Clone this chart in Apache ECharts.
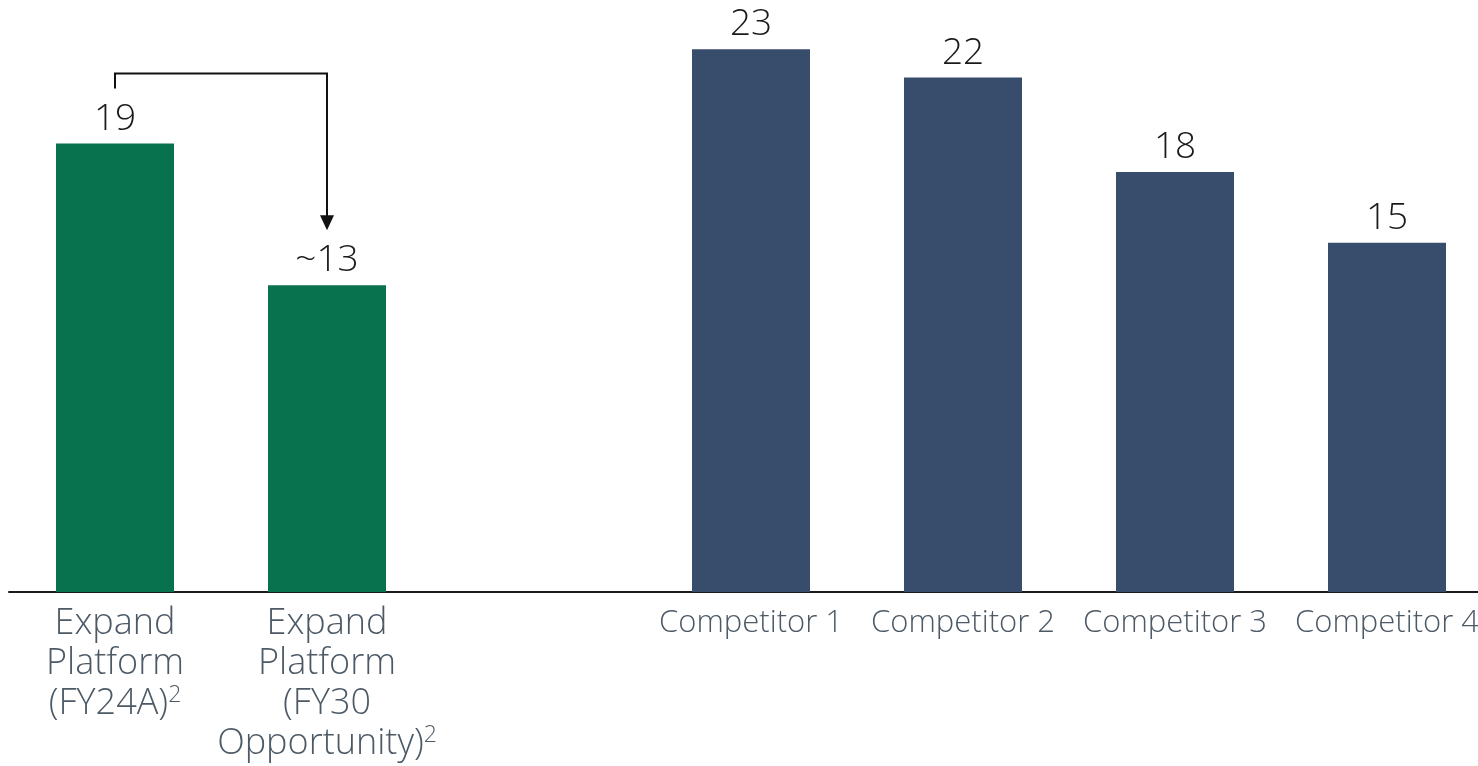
<!DOCTYPE html>
<html lang="en">
<head>
  <meta charset="UTF-8">
  <script src="https://cdn.jsdelivr.net/npm/echarts@6/dist/echarts.min.js"></script>
  <title>Expand Platform vs competitors</title>
  <style>
    * { margin: 0; padding: 0; }
    html, body { width: 100%; height: 100%; background: #fff; }
    #chart { width: 1478px; height: 766px; }
  </style>
</head>
<body>
<div id="chart"></div>
<script>
  // categories (the empty one is the gap between the two groups)
  var categories = ['Expand\nPlatform\n(FY24A)', 'Expand\nPlatform\n(FY30\nOpportunity)', '',
    'Competitor 1', 'Competitor 2', 'Competitor 3', 'Competitor 4'];
  var values = [19, 13, '-', 23, 21.8, 17.8, 14.8];
  var valueLabels = ['19', '~13', '', '23', '22', '18', '15'];
  var footnoted = [true, true, false, false, false, false, false];
  var green = '#08724f';
  var navy = '#384d6c';
  var barColors = [green, green, navy, navy, navy, navy, navy];

  var chart = echarts.init(document.getElementById('chart'));

  var seriesData = values.map(function (v, i) {
    return { value: v, itemStyle: { color: barColors[i] } };
  });

  var option = {
    animation: false,
    grid: { left: 9, width: 1484, top: 2, bottom: 174, containLabel: false, outerBoundsMode: 'none' },
    xAxis: {
      type: 'category',
      data: categories,
      axisLine: { lineStyle: { color: '#1a1a1a', width: 2 } },
      axisTick: { show: false },
      axisLabel: {
        interval: 0,
        margin: 12,
        hideOverlap: false,
        formatter: function (val, idx) {
          if (footnoted[idx]) {
            var lines = val.split('\n');
            var last = lines.pop();
            var out = lines.map(function (l) { return '{big|' + l + '}'; });
            out.push('{big|' + last + '}{sup|2}');
            return out.join('\n');
          }
          return '{small|' + val + '}';
        },
        rich: {
          big: { fontFamily: 'Open Sans', fontWeight: 300, fontSize: 36, lineHeight: 40, color: '#4d5a66' },
          sup: { fontFamily: 'Open Sans', fontWeight: 300, fontSize: 23, lineHeight: 40, color: '#4d5a66', verticalAlign: 'top', padding: [0, 0, 12, 0] },
          small: { fontFamily: 'Open Sans', fontWeight: 300, fontSize: 31, lineHeight: 38, color: '#4d5a66' }
        }
      }
    },
    yAxis: {
      type: 'value',
      min: 0,
      max: 25,
      show: false,
      splitLine: { show: false }
    },
    series: [{
      type: 'bar',
      barWidth: 118,
      data: seriesData,
      label: {
        show: true,
        position: 'top',
        distance: 6,
        fontFamily: 'Open Sans',
        fontWeight: 300,
        fontSize: 37,
        color: '#1a1a1a',
        formatter: function (p) { return valueLabels[p.dataIndex]; }
      }
    }]
  };

  chart.setOption(option);

  // bracket arrow from bar 1 to bar 2
  var p0 = chart.convertToPixel({ seriesIndex: 0 }, [0, values[0]]);
  var p1 = chart.convertToPixel({ seriesIndex: 0 }, [1, values[1]]);
  var startY = p0[1] - 55;
  var topY = p0[1] - 70;
  var tipY = p1[1] - 55;
  chart.setOption({
    graphic: [
      {
        type: 'polyline',
        shape: { points: [[p0[0], startY], [p0[0], topY], [p1[0], topY], [p1[0], tipY - 14]] },
        style: { stroke: '#111', lineWidth: 2, fill: null }
      },
      {
        type: 'polygon',
        shape: { points: [[p1[0] - 7, tipY - 15], [p1[0] + 7, tipY - 15], [p1[0], tipY]] },
        style: { fill: '#111' }
      }
    ]
  });
</script>
</body>
</html>
